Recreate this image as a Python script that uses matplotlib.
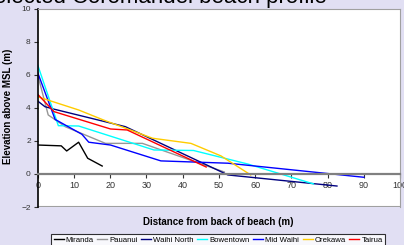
import matplotlib
matplotlib.use('Agg')
import matplotlib.pyplot as plt

plt.rcParams['font.family'] = ['Liberation Sans', 'DejaVu Sans']

# profile data: distance from back of beach (m), elevation above MSL (m)
miranda_x = [0, 6.5, 8.0, 11.3, 13.8, 17.8]
miranda_y = [1.75, 1.7, 1.39, 1.92, 0.95, 0.48]

pauanui_x = [0, 2.9, 7.6, 18.7, 28.9, 51.5]
pauanui_y = [6.0, 3.57, 2.86, 1.85, 1.85, 0.12]

waihi_north_x = [0, 2.0, 4.3, 24.2, 52.5, 82.6]
waihi_north_y = [4.41, 4.07, 3.93, 2.86, -0.06, -0.73]

bowentown_x = [0, 5.7, 11.3, 32.1, 43.0, 58.0, 76.1]
bowentown_y = [6.59, 2.92, 2.9, 1.45, 1.42, 0.6, -0.6]

mid_waihi_x = [0, 4.8, 12.2, 14.1, 20.1, 34.0, 52.5, 90.0]
mid_waihi_y = [6.13, 3.3, 2.4, 1.92, 1.75, 0.79, 0.65, -0.2]

orekawa_x = [0, 11.3, 18.2, 31.7, 42.3, 50.6, 58.8]
orekawa_y = [4.67, 3.87, 3.26, 2.16, 1.85, 1.09, -0.06]

tairua_x = [0, 4.5, 20.1, 24.7, 46.5]
tairua_y = [4.82, 3.77, 2.72, 2.66, 0.42]

fig = plt.figure(figsize=(4.04, 2.45), dpi=100)
fig.patch.set_facecolor('#e1dff3')
ax = fig.add_axes([0.0933, 0.155, 0.8968, 0.8098])
ax.set_facecolor('white')

lw = 1.0
ax.plot(miranda_x, miranda_y, color='black', lw=lw, label='Miranda')
ax.plot(pauanui_x, pauanui_y, color='#969696', lw=lw, label='Pauanui')
ax.plot(waihi_north_x, waihi_north_y, color='#000080', lw=lw, label='Waihi North')
ax.plot(bowentown_x, bowentown_y, color='#00ffff', lw=lw, label='Bowentown')
ax.plot(mid_waihi_x, mid_waihi_y, color='#0000ff', lw=lw, label='Mid Waihi')
ax.plot(orekawa_x, orekawa_y, color='#ffcc00', lw=lw, label='Orekawa')
ax.plot(tairua_x, tairua_y, color='#ff0000', lw=lw, label='Tairua')

ax.set_xlim(0, 100)
ax.set_ylim(-2, 10)
ax.set_xticks(range(0, 101, 10))
ax.set_yticks(range(-2, 11, 2))

# x axis drawn through zero
ax.spines['bottom'].set_position(('data', 0))
ax.spines['bottom'].set_color('#808080')
ax.spines['bottom'].set_linewidth(1.6)
ax.spines['left'].set_color('black')
ax.spines['left'].set_linewidth(1.2)
ax.spines['top'].set_color('#a0a0a0')
ax.spines['right'].set_color('#a0a0a0')
ax.axhline(-2, color='#a0a0a0', lw=1.5)

ax.tick_params(axis='x', labelsize=6.5, colors='#333333', length=3, width=0.8, pad=2)
ax.tick_params(axis='y', labelsize=6, colors='#333333', length=3, width=0.8, pad=2)

fig.text(327 / 404, 1 - 2.5 / 245, 'Selected Coromandel beach profile', ha='right',
         va='baseline', fontsize=16, color='black')
fig.text(0.54, 1 - 222 / 245, 'Distance from back of beach (m)', ha='center',
         va='center', fontsize=7, weight='bold')
fig.text(8 / 404, 1 - 106 / 245, 'Elevation above MSL (m)', ha='center',
         va='center', rotation=90, fontsize=7, weight='bold')

leg = fig.legend(loc='upper center', bbox_to_anchor=(0.54, 1 - 234 / 245), ncol=7,
                 fontsize=5.6, frameon=True, fancybox=False, handlelength=1.3,
                 handletextpad=0.25, columnspacing=0.45, borderpad=0.3,
                 borderaxespad=0)
leg.get_frame().set_edgecolor('black')
leg.get_frame().set_linewidth(0.8)

fig.savefig('out.png', dpi=100, facecolor=fig.get_facecolor())
